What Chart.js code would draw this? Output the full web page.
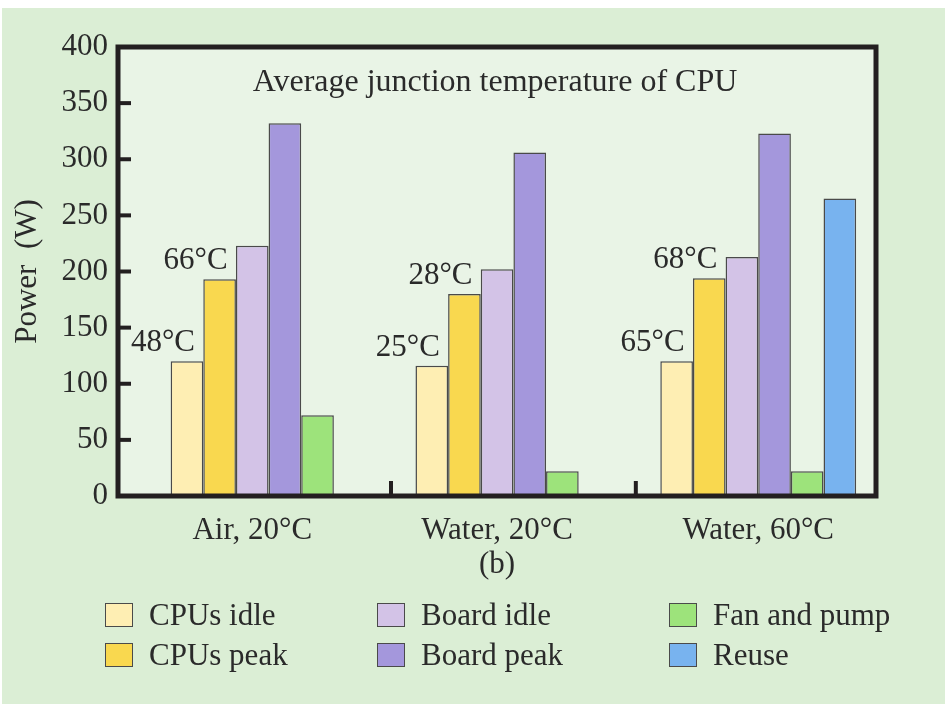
<!DOCTYPE html>
<html>
<head>
<meta charset="utf-8">
<script src="https://cdn.jsdelivr.net/npm/chart.js@4"></script>
<style>
    html, body { margin: 0; padding: 0; background: #ffffff; }
    #fondo { position: absolute; left: 2px; top: 8px; width: 943px; height: 696px; background: #dbeed5; }
    #lienzo { position: absolute; left: 0; top: 0; }
    #leyenda {
        position: absolute; left: 105px; top: 595px;
        display: grid; grid-auto-flow: column;
        grid-template-rows: 40px 40px;
        grid-template-columns: 272px 292px 240px;
        font-family: "Liberation Serif", serif; font-size: 31px; color: #2a2a2a;
    }
    .item { display: flex; align-items: center; }
    .caja { width: 28px; height: 24px; box-sizing: border-box; border: 1.5px solid #4a4a4a; margin-right: 16px; }
</style>
</head>
<body>
<div id="fondo"></div>
<canvas id="lienzo" width="945" height="704"></canvas>
<div id="leyenda"></div>
<script>
const categorias = ['Air, 20°C', 'Water, 20°C', 'Water, 60°C'];
const cpusIdle  = [120, 116, 120];
const cpusPeak  = [193, 180, 194];
const boardIdle = [223, 202, 213];
const boardPeak = [332, 306, 323];
const fanPump   = [72, 22, 22];
const reuse     = [null, null, 265];
const tempIdle  = ['48°C', '25°C', '65°C'];
const tempPeak  = ['66°C', '28°C', '68°C'];
const tituloGrafico = 'Average junction temperature of CPU';
const yMin = 0, yMax = 400, yPaso = 50;

const TINTA = '#2a2a2a';
const FUENTE = '"Liberation Serif", serif';
const ANCHO_GRUPO = 0.8;

Chart.defaults.font.family = FUENTE;
Chart.defaults.font.size = 31;
Chart.defaults.color = TINTA;

function serie(valores) {
    return valores.map((v, i) => ({ x: i, y: v }));
}

const series = [
    { label: 'CPUs idle',    data: serie(cpusIdle),  backgroundColor: '#feeeb3' },
    { label: 'CPUs peak',    data: serie(cpusPeak),  backgroundColor: '#f9d84f' },
    { label: 'Board idle',   data: serie(boardIdle), backgroundColor: '#d3c3e7' },
    { label: 'Board peak',   data: serie(boardPeak), backgroundColor: '#a497dc' },
    { label: 'Fan and pump', data: serie(fanPump),   backgroundColor: '#9de37b' },
    { label: 'Reuse',        data: serie(reuse),     backgroundColor: '#78b3ef' }
];

// centro de las barras con valor en cada categoría
function centroEtiqueta(i) {
    const usados = series.map((s, k) => s.data[i].y != null ? k : -1).filter(k => k >= 0);
    const hueco = ANCHO_GRUPO / series.length;
    const primero = usados[0], ultimo = usados[usados.length - 1];
    return i - ANCHO_GRUPO / 2 + hueco * (primero + ultimo + 1) / 2;
}

const marco = {
    id: 'marco',
    beforeDraw(chart) {
        const a = chart.chartArea, ctx = chart.ctx;
        ctx.save();
        ctx.fillStyle = '#e9f4e6';
        ctx.fillRect(a.left, a.top, a.right - a.left, a.bottom - a.top);
        ctx.restore();
    },
    afterDatasetsDraw(chart) {
        const a = chart.chartArea, ctx = chart.ctx;
        const x = chart.scales.x, y = chart.scales.y;
        ctx.save();
        ctx.strokeStyle = '#231f20';
        ctx.lineWidth = 5;
        ctx.strokeRect(a.left, a.top, a.right - a.left, a.bottom - a.top);

        ctx.lineWidth = 4;
        for (let v = yMin + yPaso; v < yMax; v += yPaso) {
            const py = y.getPixelForValue(v);
            ctx.beginPath();
            ctx.moveTo(a.left, py);
            ctx.lineTo(a.left + 13, py);
            ctx.stroke();
        }
        for (let i = 0; i < categorias.length - 1; i++) {
            const px = x.getPixelForValue(i + 0.5);
            ctx.beginPath();
            ctx.moveTo(px, a.bottom);
            ctx.lineTo(px, a.bottom - 15);
            ctx.stroke();
        }

        ctx.fillStyle = TINTA;
        ctx.textAlign = 'center';
        ctx.textBaseline = 'alphabetic';
        ctx.font = '32px ' + FUENTE;
        ctx.fillText(tituloGrafico, (a.left + a.right) / 2 - 2, a.top + 44);

        ctx.font = '31px ' + FUENTE;
        [[0, tempIdle], [1, tempPeak]].forEach(([idx, textos]) => {
            chart.getDatasetMeta(idx).data.forEach((barra, i) => {
                ctx.fillText(textos[i], barra.x - 24, barra.y - 10);
            });
        });
        ctx.restore();
    }
};

const grafico = new Chart(document.getElementById('lienzo'), {
    type: 'bar',
    data: {
        datasets: series.map(s => Object.assign({
            borderColor: '#4a4a4a',
            borderWidth: 1.5,
            categoryPercentage: ANCHO_GRUPO,
            barPercentage: 1.0
        }, s))
    },
    options: {
        responsive: false,
        animation: false,
        layout: { padding: { left: 0, top: 47, right: 69, bottom: 118 } },
        plugins: {
            legend: { display: false },
            tooltip: { enabled: false }
        },
        scales: {
            x: {
                type: 'linear',
                min: -0.615,
                max: 2.481,
                offset: false,
                grid: { display: false, drawTicks: false, offset: false },
                border: { display: false },
                afterBuildTicks: scale => {
                    scale.ticks = categorias.map((c, i) => ({ value: centroEtiqueta(i) }));
                },
                afterFit: scale => { scale.height = 90; },
                ticks: {
                    padding: 16,
                    autoSkip: false,
                    maxRotation: 0,
                    callback: (valor, i) => categorias[i]
                },
                title: { display: true, text: '(b)', padding: { top: 0, bottom: 3 } }
            },
            y: {
                min: yMin,
                max: yMax,
                grid: { display: false, drawTicks: false },
                border: { display: false },
                afterFit: scale => { scale.width = 118; },
                ticks: { stepSize: yPaso, padding: 10 },
                title: { display: true, text: 'Power  (W)', padding: { top: 9, bottom: 0 } }
            }
        }
    },
    plugins: [marco]
});

function armarLeyenda(chart) {
    const cont = document.getElementById('leyenda');
    chart.data.datasets.forEach(ds => {
        const item = document.createElement('div');
        item.className = 'item';
        const caja = document.createElement('span');
        caja.className = 'caja';
        caja.style.background = ds.backgroundColor;
        const texto = document.createElement('span');
        texto.textContent = ds.label;
        item.appendChild(caja);
        item.appendChild(texto);
        cont.appendChild(item);
    });
}

armarLeyenda(grafico);
</script>
</body>
</html>
